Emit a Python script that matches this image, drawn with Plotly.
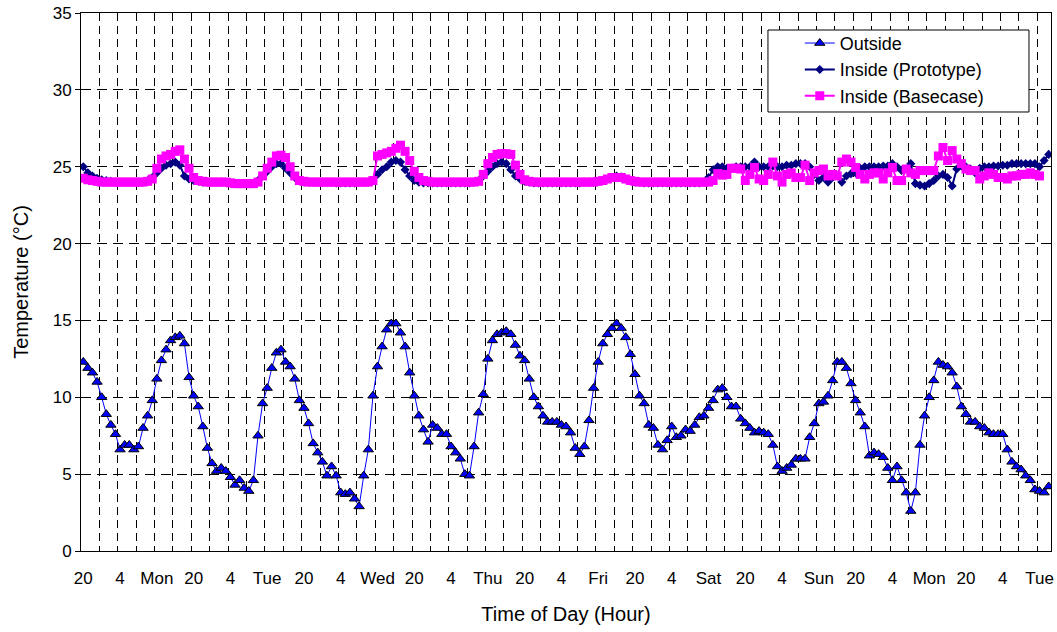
import plotly.graph_objects as go

# Hourly categories, first point = Sunday 20:00
hours = list(range(211))
tick_positions = list(range(0, 211, 8))
tick_labels = ["20", "4", "Mon", "20", "4", "Tue", "20", "4", "Wed", "20", "4", "Thu",
               "20", "4", "Fri", "20", "4", "Sat", "20", "4", "Sun", "20", "4", "Mon",
               "20", "4", "Tue"]

outside = [
    12.3, 11.9, 11.6, 11.0, 10.0, 8.9, 8.2, 7.6, 6.6, 6.9,
    6.9, 6.6, 6.8, 8.0, 8.8, 9.8, 11.2, 12.4, 13.1, 13.7,
    13.9, 14.0, 13.5, 11.3, 10.1, 9.4, 8.1, 6.7, 5.7, 5.2,
    5.4, 5.2, 4.8, 4.3, 4.6, 4.1, 3.9, 4.6, 7.5, 9.6,
    10.6, 11.9, 12.9, 13.1, 12.3, 12.0, 11.2, 9.8, 9.3, 8.3,
    7.0, 6.4, 5.8, 4.9, 5.5, 4.9, 3.8, 3.7, 3.8, 3.4,
    2.9, 4.9, 6.6, 10.1, 12.0, 13.3, 14.4, 14.8, 14.8, 14.2,
    13.3, 11.6, 10.1, 8.8, 7.9, 7.1, 8.2, 8.0, 7.6, 7.6,
    6.8, 6.4, 6.0, 5.0, 4.9, 6.8, 9.0, 10.2, 12.5, 13.7,
    14.1, 14.2, 14.3, 14.1, 13.4, 12.7, 12.4, 11.2, 10.0, 9.4,
    8.8, 8.4, 8.4, 8.4, 8.2, 8.1, 7.7, 6.7, 6.3, 6.8,
    8.5, 10.6, 12.3, 13.5, 14.1, 14.5, 14.8, 14.5, 13.9, 12.8,
    11.5, 10.1, 9.6, 8.2, 8.0, 6.9, 6.6, 7.2, 8.1, 7.4,
    7.5, 7.9, 7.8, 8.2, 8.7, 8.8, 9.3, 9.8, 10.5, 10.6,
    10.0, 9.4, 9.4, 8.6, 8.3, 8.0, 7.7, 7.8, 7.7, 7.6,
    6.9, 5.5, 5.2, 5.4, 5.6, 6.0, 6.0, 6.0, 7.4, 8.3,
    9.6, 9.7, 10.1, 11.1, 12.3, 12.3, 11.9, 10.9, 9.8, 9.0,
    8.1, 6.2, 6.4, 6.3, 6.1, 5.4, 4.6, 5.5, 4.6, 3.8,
    2.6, 3.8, 6.9, 8.8, 10.0, 11.1, 12.3, 12.1, 12.0, 11.6,
    10.7, 9.4, 8.9, 8.4, 8.4, 8.1, 8.0, 7.7, 7.6, 7.6,
    7.6, 6.6, 5.8, 5.5, 5.3, 4.9, 4.6, 4.0, 3.9, 3.8,
    4.2,
]

inside_prototype = [
    25.0, 24.6, 24.4, 24.25, 24.15, 24.1, 24.05, 24.0, 24.0, 24.0,
    24.0, 24.0, 24.0, 24.0, 24.1, 24.3, 24.6, 24.9, 25.1, 25.2,
    25.3, 25.1, 24.4, 24.2, 24.1, 24.05, 24.0, 24.0, 24.0, 24.0,
    24.0, 24.0, 23.95, 23.9, 23.9, 23.9, 23.9, 23.9, 24.1, 24.4,
    24.7, 25.0, 25.2, 25.2, 24.9, 24.6, 24.3, 24.1, 24.0, 24.0,
    24.0, 24.0, 24.0, 24.0, 24.0, 23.95, 23.95, 23.95, 23.95, 23.95,
    24.0, 24.0, 24.0, 24.1, 24.5, 24.8, 25.0, 25.3, 25.4, 25.3,
    24.8, 24.4, 24.1, 24.0, 23.95, 23.95, 23.95, 23.95, 23.95, 23.95,
    23.95, 23.95, 23.95, 23.95, 23.95, 24.0, 24.1, 24.4, 24.7, 25.0,
    25.2, 25.3, 25.2, 24.8, 24.4, 24.2, 24.05, 24.0, 23.95, 23.95,
    23.95, 23.95, 23.95, 23.95, 23.95, 23.95, 23.95, 23.95, 23.95, 24.0,
    24.0, 24.0, 24.05, 24.1, 24.2, 24.3, 24.4, 24.35, 24.2, 24.1,
    24.0, 24.0, 23.95, 23.95, 23.95, 23.95, 23.95, 23.95, 23.95, 23.95,
    23.95, 23.95, 23.95, 23.95, 23.95, 24.0, 24.3, 24.8, 25.0, 25.0,
    24.9, 24.9, 25.0, 25.0, 25.0, 25.0, 25.3, 25.0, 25.0, 25.0,
    25.05, 25.0, 25.0, 25.1, 25.1, 25.2, 25.2, 25.2, 25.0, 24.5,
    24.1, 24.3, 24.0, 24.3, 24.4, 24.0, 24.4, 24.55, 24.6, 24.9,
    25.0, 25.0, 25.0, 25.0, 25.05, 25.05, 25.2, 25.0, 24.75, 24.85,
    25.2, 23.9, 23.8, 23.75, 23.9, 24.1, 24.4, 24.5, 24.3, 23.75,
    24.85, 25.05, 25.0, 24.85, 24.6, 24.9, 25.0, 25.0, 25.05, 25.05,
    25.1, 25.1, 25.2, 25.2, 25.2, 25.2, 25.2, 25.2, 25.0, 25.4,
    25.8,
]

inside_basecase = [
    24.25, 24.15, 24.1, 24.05, 24.0, 24.0, 24.0, 24.0, 24.0, 24.0,
    24.0, 24.0, 24.0, 24.0, 24.05, 24.2, 24.9, 25.5, 25.7, 25.8,
    26.0, 26.1, 25.5, 24.9, 24.3, 24.1, 24.05, 24.0, 24.0, 24.0,
    24.0, 24.0, 23.95, 23.9, 23.9, 23.9, 23.9, 23.9, 24.0, 24.4,
    24.9, 25.3, 25.7, 25.75, 25.6, 25.0, 24.4, 24.1, 24.05, 24.0,
    24.0, 24.0, 24.0, 24.0, 24.0, 24.0, 24.0, 24.0, 24.0, 24.0,
    24.0, 24.0, 24.0, 24.1, 25.7, 25.8, 25.9, 26.0, 26.2, 26.4,
    26.0, 25.4, 24.7, 24.3, 24.1, 24.05, 24.0, 24.0, 24.0, 24.0,
    24.0, 24.0, 24.0, 24.0, 24.0, 24.0, 24.05, 24.5, 25.2, 25.6,
    25.8, 25.85, 25.85, 25.8, 25.1, 24.5, 24.15, 24.05, 24.0, 24.0,
    24.0, 24.0, 24.0, 24.0, 24.0, 24.0, 24.0, 24.0, 24.0, 24.0,
    24.0, 24.0, 24.05, 24.1, 24.2, 24.3, 24.3, 24.3, 24.2, 24.1,
    24.05, 24.0, 24.0, 24.0, 24.0, 24.0, 24.0, 24.0, 24.0, 24.0,
    24.0, 24.0, 24.0, 24.0, 24.0, 24.0, 24.0, 24.1, 24.55, 24.45,
    24.5, 24.9, 24.9, 24.85, 24.1, 24.5, 24.95, 24.2, 24.1, 24.5,
    25.3, 24.4, 24.0, 24.5, 24.6, 24.3, 24.3, 25.1, 24.1, 24.6,
    24.75, 24.85, 24.4, 24.5, 24.4, 25.3, 25.5, 25.3, 24.95, 24.5,
    24.2, 24.5, 24.6, 24.6, 24.2, 24.6, 24.95, 24.1, 24.1, 24.85,
    24.6, 24.5, 24.75, 24.75, 24.75, 24.75, 25.7, 26.25, 25.4, 26.05,
    25.5, 25.2, 24.85, 24.75, 24.75, 24.2, 24.4, 24.6, 24.5, 24.3,
    24.3, 24.2, 24.4, 24.4, 24.5, 24.5, 24.6, 24.5, 24.4,
]

FONT = "Liberation Sans, Arial, sans-serif"
TICK_SIZE = 17
TITLE_SIZE = 20
LEGEND_SIZE = 18

fig = go.Figure()
fig.add_trace(go.Scatter(
    x=hours[:len(outside)], y=outside, mode="lines+markers", name="Outside",
    line=dict(color="#0000FF", width=1),
    marker=dict(symbol="triangle-up", size=9, color="#0000FF",
                line=dict(color="#000000", width=1)),
))
fig.add_trace(go.Scatter(
    x=hours[:len(inside_prototype)], y=inside_prototype, mode="lines+markers",
    name="Inside (Prototype)",
    line=dict(color="#000080", width=2),
    marker=dict(symbol="diamond", size=7, color="#000080"),
))
fig.add_trace(go.Scatter(
    x=hours[:len(inside_basecase)], y=inside_basecase, mode="lines+markers",
    name="Inside (Basecase)",
    line=dict(color="#FF00FF", width=2),
    marker=dict(symbol="square", size=9, color="#FF00FF"),
))

# legend frame (white box with black border) drawn over the grid
fig.add_shape(type="rect", xref="paper", yref="paper",
              x0=0.7082, x1=0.9773, y0=0.816, y1=0.9684,
              line=dict(color="black", width=1), fillcolor="white", layer="above")

fig.update_layout(
    width=1057, height=632,
    margin=dict(l=81, r=6, t=13, b=81),
    paper_bgcolor="white", plot_bgcolor="white",
    font=dict(family=FONT, size=TICK_SIZE, color="black"),
    showlegend=True,
    legend=dict(
        x=0.741, y=0.978, xanchor="left", yanchor="top",
        bgcolor="rgba(0,0,0,0)", borderwidth=0,
        font=dict(family=FONT, size=LEGEND_SIZE, color="black"),
        itemwidth=30, tracegroupgap=0,
    ),
)

fig.update_xaxes(
    range=[-0.5, 210.5], automargin=False,
    tickmode="array", tickvals=tick_positions, ticktext=tick_labels,
    ticks="", showgrid=False, zeroline=False,
    showline=True, linecolor="black", linewidth=1, mirror=True,
    tickfont=dict(family=FONT, size=TICK_SIZE, color="black"),
    ticklabelstandoff=12,
    minor=dict(tickmode="linear", tick0=3.5, dtick=4, showgrid=True,
               gridcolor="black", gridwidth=1, griddash="8px,5px", ticks=""),
    title=dict(text="Time of Day (Hour)", font=dict(family=FONT, size=TITLE_SIZE, color="black"),
               standoff=19),
)
fig.update_yaxes(
    range=[0, 35], automargin=False, tickmode="linear", tick0=0, dtick=5,
    ticks="outside", ticklen=5, tickcolor="black",
    showgrid=True, gridcolor="black", gridwidth=1, griddash="10px,6px",
    zeroline=False,
    showline=True, linecolor="black", linewidth=1, mirror=True,
    tickfont=dict(family=FONT, size=TICK_SIZE, color="black"),
    title=dict(text="Temperature (°C)", font=dict(family=FONT, size=TITLE_SIZE, color="black"),
               standoff=18),
)

# remove the page's default 8px body margin so the figure fills the window
fig.write_html("out.html",
               config={"displayModeBar": False},
               post_script="document.body.style.margin='0px';document.body.style.overflow='hidden';")
